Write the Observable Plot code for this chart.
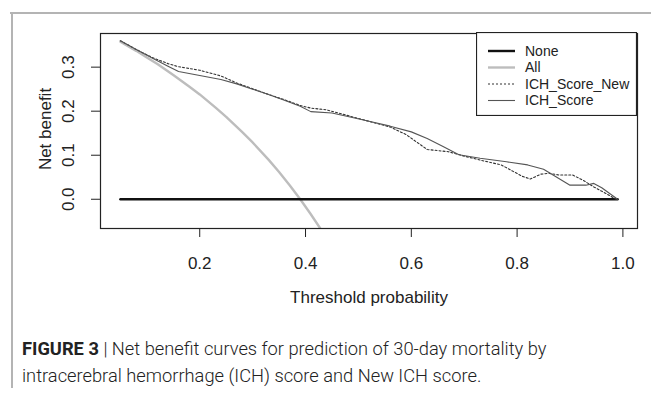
<!DOCTYPE html>
<html>
<head>
<meta charset="utf-8">
<script src="https://cdn.jsdelivr.net/npm/d3@7"></script>
<script src="https://cdn.jsdelivr.net/npm/@observablehq/plot@0.6"></script>
<style>
  html, body { margin: 0; padding: 0; background: #fff; }
  body { width: 651px; height: 395px; position: relative; overflow: hidden; font-family: "Liberation Sans", Arial, sans-serif; }
  #frameTop { position: absolute; left: 10px; top: 12px; width: 641px; height: 2px; background: #b4b4b4; }
  #frameLeft { position: absolute; left: 11px; top: 12px; width: 2px; height: 376px; background: #b4b4b4; }
  #chart { position: absolute; left: 0; top: 0; }
  #legend { position: absolute; left: 476px; top: 32px; }
  #caption { position: absolute; left: 22px; top: 335px; font-family: Roboto, "Liberation Sans", sans-serif; font-weight: 300; font-size: 18.3px; line-height: 27px; color: #222; white-space: nowrap; }
  #caption b { font-weight: 700; }
</style>
</head>
<body>
<div id="frameTop"></div>
<div id="frameLeft"></div>
<div id="chart"></div>
<div id="legend"></div>
<div id="caption"><b>FIGURE 3</b> | Net benefit curves for prediction of 30-day mortality by<br>intracerebral hemorrhage (ICH) score and New ICH score.</div>
<script>
// ---- data ----
const xTicks = [0.2, 0.4, 0.6, 0.8, 1.0];
const yTicks = [0.0, 0.1, 0.2, 0.3];

const noneThreshold = [0.05, 0.99];
const noneBenefit = [0, 0];

const allThreshold = [0.05, 0.08, 0.10, 0.12, 0.15, 0.18, 0.20, 0.23, 0.25, 0.28, 0.30, 0.33, 0.35, 0.37, 0.39, 0.41, 0.43];
const allBenefit   = [0.358, 0.337, 0.322, 0.307, 0.282, 0.256, 0.238, 0.208, 0.187, 0.153, 0.129, 0.090, 0.062, 0.032, 0.000, -0.034, -0.070];

const newThreshold = [0.05, 0.08, 0.11, 0.14, 0.16, 0.20, 0.24, 0.27, 0.30, 0.33, 0.36, 0.39, 0.41, 0.44, 0.48, 0.52, 0.56, 0.59, 0.61, 0.63, 0.67, 0.70, 0.73, 0.77, 0.81, 0.825, 0.845, 0.86, 0.88, 0.905, 0.925, 0.945, 0.965, 0.99];
const newBenefit   = [0.360, 0.340, 0.322, 0.308, 0.301, 0.293, 0.280, 0.264, 0.251, 0.238, 0.226, 0.213, 0.207, 0.203, 0.190, 0.177, 0.164, 0.147, 0.130, 0.113, 0.108, 0.098, 0.089, 0.078, 0.052, 0.046, 0.057, 0.059, 0.055, 0.055, 0.043, 0.028, 0.015, -0.002];

const ichThreshold = [0.05, 0.08, 0.11, 0.14, 0.16, 0.20, 0.24, 0.27, 0.30, 0.33, 0.36, 0.39, 0.41, 0.45, 0.48, 0.52, 0.56, 0.60, 0.63, 0.66, 0.69, 0.73, 0.78, 0.82, 0.85, 0.875, 0.90, 0.93, 0.945, 0.96, 0.99];
const ichBenefit   = [0.360, 0.340, 0.321, 0.302, 0.290, 0.281, 0.272, 0.262, 0.250, 0.238, 0.225, 0.211, 0.199, 0.196, 0.188, 0.177, 0.166, 0.153, 0.138, 0.120, 0.101, 0.093, 0.085, 0.078, 0.068, 0.050, 0.032, 0.032, 0.036, 0.026, 0.000];

const legendLabels = ["None", "All", "ICH_Score_New", "ICH_Score"];

// ---- build tables ----
const toRows = (xs, ys) => xs.map((x, i) => ({x, y: ys[i]}));
const noneRows = toRows(noneThreshold, noneBenefit);
const allRows = toRows(allThreshold, allBenefit);
const newRows = toRows(newThreshold, newBenefit);
const ichRows = toRows(ichThreshold, ichBenefit);

const styles = {
  "None": {stroke: "#111", strokeWidth: 2.4},
  "All": {stroke: "#bdbdbd", strokeWidth: 2.4},
  "ICH_Score_New": {stroke: "#333", strokeWidth: 1.1, strokeDasharray: "2,2"},
  "ICH_Score": {stroke: "#555", strokeWidth: 1.1}
};

const fmt = d3.format(".1f");
const fs = 17;
const plot = Plot.plot({
  width: 651,
  height: 320,
  marginLeft: 100,
  marginRight: 14,
  marginTop: 33,
  marginBottom: 92,
  x: {domain: [0.0124, 1.0276]},
  y: {domain: [-0.0664, 0.3764]},
  style: {fontFamily: "'Liberation Sans', Arial, sans-serif", fontSize: fs + "px", color: "#222", background: "transparent"},
  marks: [
    Plot.line(allRows, {x: "x", y: "y", ...styles["All"], clip: true}),
    Plot.line(noneRows, {x: "x", y: "y", ...styles["None"]}),
    Plot.line(newRows, {x: "x", y: "y", ...styles["ICH_Score_New"]}),
    Plot.line(ichRows, {x: "x", y: "y", ...styles["ICH_Score"]}),
    Plot.frame({stroke: "#222", strokeWidth: 1.2}),
    Plot.axisX({ticks: xTicks, tickFormat: fmt, tickSize: 9, tickPadding: 19, fontSize: fs, label: null, stroke: "#222"}),
    Plot.axisY({ticks: yTicks, tickFormat: () => "", tickSize: 9, label: null, stroke: "#222"}),
    Plot.text(yTicks, {y: d => d, frameAnchor: "left", dx: -32, rotate: -90, text: d => fmt(d), textAnchor: "middle", lineAnchor: "middle", fontSize: fs, fill: "#222"}),
    Plot.text(["Net benefit"], {frameAnchor: "left", dx: -55, dy: -2, rotate: -90, text: d => d, textAnchor: "middle", lineAnchor: "middle", fontSize: fs, fill: "#222"}),
    Plot.text(["Threshold probability"], {frameAnchor: "bottom", dy: 69, text: d => d, textAnchor: "middle", lineAnchor: "middle", fontSize: fs, fill: "#222"})
  ]
});
document.getElementById("chart").appendChild(plot);

// ---- legend ----
const lw = 161, lh = 84;
const ns = "http://www.w3.org/2000/svg";
const lsvg = document.createElementNS(ns, "svg");
lsvg.setAttribute("width", lw);
lsvg.setAttribute("height", lh);
lsvg.style.fontFamily = "'Liberation Sans', Arial, sans-serif";
const rect = document.createElementNS(ns, "rect");
rect.setAttribute("x", 0.5); rect.setAttribute("y", 0.5);
rect.setAttribute("width", lw - 1); rect.setAttribute("height", lh - 1);
rect.setAttribute("fill", "#fff"); rect.setAttribute("stroke", "#222"); rect.setAttribute("stroke-width", 1.2);
lsvg.appendChild(rect);
legendLabels.forEach((name, i) => {
  const yy = 19 + i * 16.5;
  const s = styles[name];
  const ln = document.createElementNS(ns, "line");
  ln.setAttribute("x1", 12); ln.setAttribute("x2", 39);
  ln.setAttribute("y1", yy); ln.setAttribute("y2", yy);
  ln.setAttribute("stroke", s.stroke);
  ln.setAttribute("stroke-width", s.strokeWidth);
  if (s.strokeDasharray) ln.setAttribute("stroke-dasharray", s.strokeDasharray);
  lsvg.appendChild(ln);
  const tx = document.createElementNS(ns, "text");
  tx.setAttribute("x", 49); tx.setAttribute("y", yy);
  tx.setAttribute("dy", "0.35em");
  tx.setAttribute("font-size", 14);
  tx.setAttribute("fill", "#222");
  tx.textContent = name;
  lsvg.appendChild(tx);
});
document.getElementById("legend").appendChild(lsvg);
</script>
</body>
</html>
